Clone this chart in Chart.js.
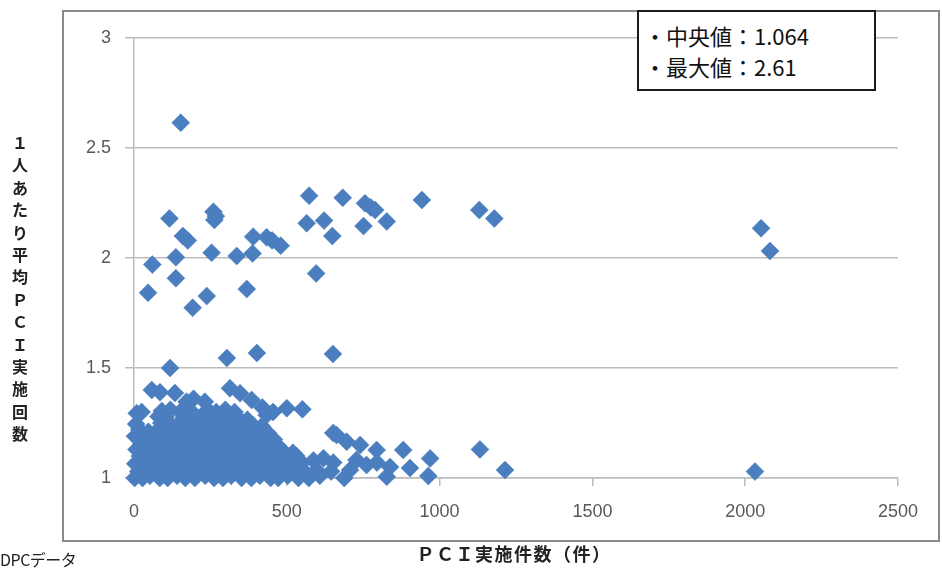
<!DOCTYPE html>
<html>
<head>
<meta charset="utf-8">
<script src="https://cdn.jsdelivr.net/npm/chart.js@4.4.1/dist/chart.umd.min.js"></script>
<style>
  html, body { margin: 0; padding: 0; background: #fff; }
  #wrap { position: relative; width: 942px; height: 569px; overflow: hidden; }
  #frame { position: absolute; left: 62px; top: 10px; width: 874px; height: 528px; border: 2px solid #8a8a8a; box-sizing: content-box; }
  canvas { position: absolute; left: 0; top: 0; }
  #legendBox { position: absolute; left: 637px; top: 10px; width: 235px; height: 77px; border: 2px solid #1a1a1a; background: #fff;
    font-family: "Noto Sans CJK JP", "Noto Sans", sans-serif; font-size: 22px; color: #111; }
  #legendBox div { position: absolute; left: 5px; height: 31px; line-height: 31px; white-space: nowrap; }
  #ytitle { position: absolute; left: 5px; top: 131px; width: 30px; text-align: center; line-height: 22.4px;
    font-family: "Noto Sans CJK JP", sans-serif; font-weight: bold; font-size: 16px; color: #222; }
  #xtitle { position: absolute; left: 314px; width: 400px; top: 541px; text-align: center; line-height: 24px;
    font-family: "Noto Sans CJK JP", sans-serif; font-weight: bold; font-size: 18px; color: #222; letter-spacing: 1.5px; }
  #source { position: absolute; left: 0px; top: 548px; line-height: 22px; font-family: "Noto Sans CJK JP", sans-serif; font-size: 16px; color: #222; letter-spacing: -0.5px; }
</style>
</head>
<body>
<div id="wrap">
  <div id="frame"></div>
  <canvas id="c" width="942" height="569"></canvas>
  <div id="legendBox"></div>
  <div id="ytitle"></div>
  <div id="xtitle"></div>
  <div id="source"></div>
</div>
<script>
// ---- Data (PCI count per hospital, average PCI per patient) ----
const legendLines = ['・中央値：1.064', '・最大値：2.61'];
const yTitleText = '１人あたり平均ＰＣＩ実施回数';
const xTitleText = 'ＰＣＩ実施件数（件）';
const sourceText = 'DPCデータ';
const xTickLabels = ['0', '500', '1000', '1500', '2000', '2500'];
const yTickLabels = ['1', '1.5', '2', '2.5', '3'];

const upperGroup = [
  [153,2.615],[116,2.18],[60,1.97],[46,1.842],[137,2.003],[137,1.908],[160,2.1],[176,2.08],
  [192,1.774],[238,1.827],[254,2.024],[260,2.21],[268,2.19],[263,2.173],[336,2.009],[369,1.859],
  [388,2.021],[390,2.097],[434,2.094],[452,2.08],[480,2.056],[573,2.283],[565,2.158],[622,2.17],
  [649,2.1],[596,1.93],[683,2.274],[756,2.249],[751,2.145],[775,2.23],[789,2.218],[827,2.166],
  [942,2.264],[1130,2.218],[1179,2.179],[2052,2.135],[2081,2.032]
];
const midGroup = [
  [118,1.5],[304,1.545],[402,1.568],[651,1.564],[58,1.4],[85,1.39],[134,1.386],[314,1.408],
  [347,1.385],[172,1.347],[232,1.347],[385,1.355],[195,1.36],[500,1.317],[551,1.312],[420,1.32],[455,1.30]
];
const clusterLow = [
  [2,1.0],[28,1.0],[52,1.01],[84,1.0],[110,1.0],[141,1.01],[168,1.0],[199,1.0],[233,1.01],[262,1.0],
  [291,1.0],[318,1.01],[352,1.0],[384,1.0],[412,1.01],[447,1.0],[472,1.0],[503,1.01],[538,1.0],[572,1.0],
  [608,1.01],[688,1.0],[827,1.006],[963,1.009],
  [14,1.03],[44,1.04],[71,1.03],[98,1.035],[127,1.03],[156,1.04],[186,1.03],[214,1.035],[246,1.03],[274,1.04],
  [306,1.03],[334,1.035],[366,1.03],[396,1.04],[428,1.03],[461,1.035],[489,1.03],[521,1.04],[558,1.03],[598,1.035],
  [645,1.03],[707,1.036],[838,1.05],[903,1.045],
  [4,1.065],[33,1.06],[61,1.07],[89,1.06],[117,1.065],[147,1.07],[177,1.06],[207,1.065],[239,1.07],[267,1.06],
  [297,1.065],[329,1.07],[357,1.06],[389,1.065],[419,1.07],[454,1.06],[483,1.065],[514,1.06],[549,1.07],[587,1.08],
  [620,1.09],[652,1.07],[728,1.082],[761,1.059],[795,1.07]
];
const clusterMid = [
  [19,1.1],[49,1.09],[78,1.095],[106,1.1],[134,1.09],[163,1.1],[194,1.095],[224,1.09],[256,1.1],[284,1.095],
  [313,1.09],[344,1.1],[374,1.095],[406,1.09],[437,1.1],[467,1.095],[498,1.09],[531,1.1],[969,1.089],
  [8,1.13],[38,1.12],[66,1.125],[94,1.13],[123,1.12],[152,1.13],[181,1.125],[212,1.12],[243,1.13],[271,1.125],
  [301,1.12],[331,1.13],[361,1.125],[392,1.12],[424,1.13],[456,1.12],[486,1.125],[520,1.115],[794,1.127],[881,1.127],
  [1132,1.13],[696,1.165],[740,1.15],
  [24,1.155],[54,1.16],[83,1.15],[111,1.16],[139,1.155],[169,1.15],[198,1.16],[228,1.155],[259,1.15],[287,1.16],
  [317,1.155],[348,1.15],[379,1.16],[409,1.155],[441,1.15],[470,1.145]
];
const clusterHigh = [
  [3,1.19],[39,1.18],[69,1.185],[97,1.19],[128,1.18],[158,1.19],[187,1.185],[218,1.18],[249,1.19],[278,1.185],
  [307,1.18],[338,1.19],[368,1.185],[399,1.18],[430,1.185],[458,1.175],[663,1.195],
  [17,1.22],[47,1.21],[76,1.215],[104,1.22],[136,1.21],[165,1.22],[196,1.215],[226,1.21],[254,1.22],[286,1.215],
  [316,1.21],[346,1.22],[376,1.215],[404,1.21],[438,1.205],[652,1.205],
  [7,1.245],[89,1.25],[118,1.245],[148,1.24],[178,1.25],[207,1.245],[238,1.24],[268,1.25],[297,1.245],
  [327,1.24],[357,1.25],[389,1.24],[418,1.235],
  [80,1.28],[103,1.28],[161,1.27],[191,1.28],[222,1.275],[252,1.27],[283,1.28],[311,1.275],[342,1.27],[371,1.265],[434,1.286],
  [9,1.294],[25,1.30],[91,1.305],[119,1.31],[151,1.30],[186,1.305],[241,1.31],[269,1.30],[299,1.31],[329,1.30]
];
const outliers = [[1214,1.036],[2032,1.029]];

// ---- Build ----
const allPoints = [].concat(clusterLow, clusterMid, clusterHigh, midGroup, upperGroup, outliers)
  .map(p => ({x: p[0], y: p[1]}));

document.getElementById('legendBox').innerHTML =
  '<div style="top:8px">' + legendLines[0] + '</div><div style="top:39px">' + legendLines[1] + '</div>';
document.getElementById('ytitle').innerHTML = Array.from(yTitleText).join('<br>');
document.getElementById('xtitle').textContent = xTitleText;
document.getElementById('source').textContent = sourceText;

const tickFont = { family: "'Liberation Sans', Arial, sans-serif", size: 18 };
const gridColor = '#bcbcbc';

new Chart(document.getElementById('c'), {
  type: 'scatter',
  data: {
    datasets: [{
      data: allPoints,
      pointStyle: 'rectRot',
      pointRadius: 9,
      backgroundColor: '#4a7ebf',
      borderColor: '#4a7ebf',
      borderWidth: 0.5,
      clip: false
    }]
  },
  options: {
    responsive: false,
    animation: false,
    events: [],
    layout: { padding: { left: 62, top: 38, right: 44, bottom: 40 } },
    plugins: { legend: { display: false }, tooltip: { enabled: false }, title: { display: false } },
    scales: {
      x: {
        type: 'linear', min: 0, max: 2500,
        afterFit: s => { s.height = 51; },
        ticks: { stepSize: 500, padding: 15, color: '#595959', font: tickFont, maxRotation: 0,
                 callback: (v) => xTickLabels[Math.round(v / 500)] },
        grid: { drawOnChartArea: false, drawTicks: true, tickLength: 8, color: gridColor, lineWidth: 1.5 },
        border: { display: true, color: gridColor, width: 1.5 }
      },
      y: {
        type: 'linear', min: 1, max: 3,
        afterFit: s => { s.width = 72; },
        ticks: { stepSize: 0.5, padding: 14, color: '#595959', font: tickFont,
                 callback: (v) => yTickLabels[Math.round((v - 1) / 0.5)] },
        grid: { color: gridColor, lineWidth: 1.5, tickLength: 9 },
        border: { display: true, color: gridColor, width: 1.5 }
      }
    }
  }
});
</script>
</body>
</html>
